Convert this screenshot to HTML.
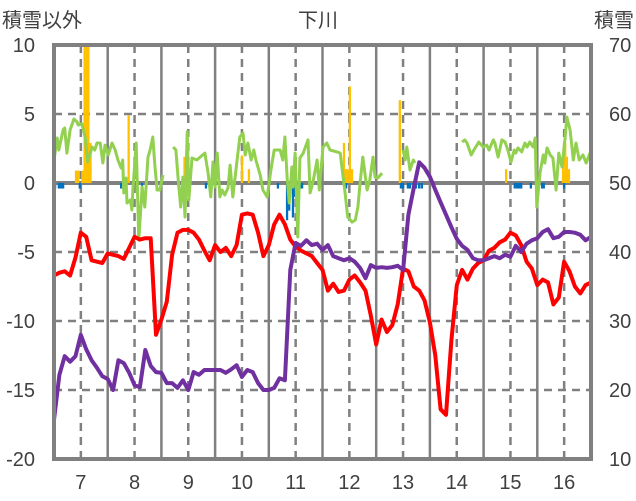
<!DOCTYPE html>
<html><head><meta charset="utf-8"><style>
html,body{margin:0;padding:0;background:#fff;}
svg{display:block;font-family:"Liberation Sans","Noto Sans CJK JP",sans-serif;}
</style></head><body>
<svg id="chart" width="636" height="501" viewBox="0 0 636 501">
<defs><clipPath id="plotclip"><rect x="54" y="45" width="537" height="414"/></clipPath></defs>
<g id="grid"></g>
<g id="bars" clip-path="url(#plotclip)"></g>
<g id="lines" clip-path="url(#plotclip)"></g>
<rect x="54" y="45" width="537" height="414" fill="none" stroke="#808080" stroke-width="4"/>
<g id="axes"></g>
<text x="2" y="27" font-size="20" fill="#404040">積雪以外</text>
<text x="318" y="27" font-size="20" fill="#404040" text-anchor="middle">下川</text>
<text x="634" y="27" font-size="20" fill="#404040" text-anchor="end">積雪</text>
</svg>
<script>
const xTicks=[7,8,9,10,11,12,13,14,15,16];
const leftTicks=[10,5,0,-5,-10,-15,-20];
const rightTicks=[70,60,50,40,30,20,10];
const lineStart=6.5, lineStep=0.1;
const redVals=[-6.7,-6.5,-6.4,-6.7,-5.4,-3.6,-3.9,-5.6,-5.7,-5.8,-5.1,-5.2,-5.3,-5.5,-4.7,-3.9,-4.1,-4.0,-4.0,-11.0,-9.9,-8.6,-5.2,-3.6,-3.4,-3.4,-3.6,-4.1,-4.9,-5.6,-4.5,-5.0,-4.7,-5.3,-4.5,-2.3,-2.2,-2.3,-3.6,-5.3,-4.5,-3.0,-2.3,-3.0,-4.1,-4.6,-4.9,-5.1,-5.3,-5.8,-6.3,-7.8,-7.3,-7.9,-7.8,-7.0,-6.7,-7.2,-7.8,-9.6,-11.7,-9.9,-10.8,-10.3,-8.8,-6.2,-6.4,-7.5,-7.8,-8.5,-10.1,-12.5,-16.4,-16.8,-11.4,-7.4,-6.3,-7.0,-6.2,-5.8,-5.6,-4.9,-4.7,-4.3,-4.1,-3.6,-3.8,-4.5,-5.7,-6.2,-7.4,-7.0,-7.2,-8.8,-8.3,-5.7,-6.4,-7.5,-8.0,-7.4,-7.2];
const snowVals=[15.7,22.2,24.9,24.1,24.9,28.0,25.9,24.3,23.2,22.0,21.6,20.0,24.3,23.9,22.5,20.7,20.4,25.8,23.5,22.6,22.5,21.0,21.0,20.3,21.4,20.0,22.6,22.2,22.9,22.9,22.9,22.9,22.5,23.0,23.6,21.9,22.9,22.6,21.0,20.0,20.0,20.3,21.7,21.4,37.4,41.3,40.9,41.7,41.0,41.2,40.3,41.0,39.4,39.1,38.8,39.1,38.6,37.7,36.2,38.1,37.7,37.8,37.7,37.8,38.0,37.4,45.4,49.3,53.0,52.2,50.9,49.0,47.2,45.4,43.6,41.9,40.9,40.3,39.1,38.8,38.8,39.1,39.4,39.1,39.6,39.3,40.9,40.0,41.2,41.7,42.0,42.9,43.3,42.0,42.2,42.9,42.9,42.8,42.5,41.7,42.2];
const greenX=[6.50,6.56,6.59,6.67,6.70,6.74,6.80,6.87,6.93,6.95,7.02,7.08,7.13,7.21,7.26,7.30,7.36,7.41,7.45,7.51,7.58,7.64,7.69,7.75,7.78,7.80,7.84,7.86,7.92,7.95,7.97,8.03,8.05,8.08,8.14,8.19,8.25,8.29,8.34,8.38,8.42,8.47,8.53,null,8.72,8.77,8.81,8.86,8.90,8.94,8.98,9.01,9.07,9.16,9.22,9.31,9.37,9.42,9.46,9.50,9.54,9.59,9.63,9.68,9.74,9.78,9.83,9.91,9.96,10.02,10.06,10.11,10.17,10.22,10.26,10.34,10.39,10.47,10.54,10.60,10.71,10.76,10.80,10.84,10.88,10.93,10.95,10.99,11.04,11.08,11.14,11.23,11.27,11.32,11.40,11.44,11.51,11.58,11.64,11.77,11.83,11.92,11.97,12.05,12.11,12.16,12.20,12.25,12.33,12.38,12.44,12.48,12.53,12.61,null,13.00,13.04,13.07,13.13,13.19,13.22,null,14.10,14.15,14.19,14.27,14.32,14.41,14.49,14.56,14.60,14.68,14.71,14.77,14.84,14.90,14.95,15.01,15.07,15.10,15.14,15.21,15.27,15.31,15.36,15.42,15.46,15.49,15.55,15.61,15.64,15.68,15.74,15.79,15.85,15.90,15.96,16.02,16.05,16.11,16.17,16.22,16.28,16.35,16.41,16.48];
const greenVals=[1.67,3.26,2.39,3.84,3.99,2.17,3.84,4.64,4.42,4.20,4.28,3.33,1.52,2.61,2.39,2.90,2.90,1.45,2.75,2.03,2.90,2.39,1.67,1.09,1.67,-0.72,0.36,-1.45,-1.23,-1.96,-0.51,2.90,0.22,-4.13,-0.29,-1.74,1.88,2.39,3.33,1.16,-0.51,-0.51,0.58,null,2.61,2.39,0.43,-1.74,0.43,-2.46,3.70,-1.23,1.81,1.67,1.88,2.17,0.72,-1.01,1.52,-0.29,2.17,-1.01,-0.51,-0.87,-0.36,1.30,-1.01,1.67,3.33,3.62,2.03,2.90,1.67,2.39,1.67,0.58,-0.51,-1.01,0.94,2.39,2.39,1.67,3.33,0.43,-1.45,1.16,-0.29,2.17,-3.91,1.81,2.17,3.12,-0.72,0.00,1.67,-0.51,2.61,2.90,2.39,2.25,2.17,-0.72,-2.46,-2.83,-2.68,-1.74,0.00,1.88,-0.51,0.22,1.88,0.43,0.36,0.72,null,2.39,1.67,2.61,0.94,1.67,1.45,null,2.97,3.12,2.90,2.03,2.39,2.97,2.61,2.75,2.39,3.12,2.90,1.88,3.12,2.97,2.39,1.52,2.39,2.17,2.54,2.25,2.90,2.61,2.97,2.61,3.26,-1.74,0.72,2.03,1.45,2.54,2.03,1.81,-0.51,2.17,1.16,3.33,4.78,3.84,1.67,2.90,1.67,2.03,1.45,2.17];
const orangeX=[6.91,6.95,7.03,7.07,7.11,7.14,7.18,7.89,8.93,10.00,10.13,11.90,11.94,11.97,12.01,12.05,12.94,14.92,15.98,16.02,16.05,16.09];
const orangeVals=[0.9,0.9,0.9,12,12,12,2.9,4.9,1.9,2.0,1.0,2.9,1.0,1.0,7.0,1.0,6.0,1.0,1.9,2.9,1.9,1.0];
const blueX=[6.52,6.59,6.63,6.67,6.98,7.75,8.14,9.33,10.67,10.84,10.88,10.95,10.99,11.03,11.08,11.12,11.29,11.94,12.96,13.00,13.09,13.13,13.19,13.24,13.30,13.35,15.08,15.12,15.16,15.20,15.38,15.59,15.62,16.00];
const blueVals=[-0.4,-0.4,-0.4,-0.4,-0.4,-0.4,-0.4,-0.4,-0.4,-2.7,-2.0,-2.5,-1.0,-1.0,-0.4,-0.4,-0.4,-0.4,-0.4,-0.4,-0.4,-0.4,-0.4,-0.4,-0.4,-0.4,-0.4,-0.4,-0.4,-0.4,-0.4,-0.4,-0.4,-0.4];

const NS='http://www.w3.org/2000/svg';
const X0=54,X1=591,Y0=45,Y1=459;
function xs(d){return X0+(d-6.5)/10*(X1-X0);}
function yl(v){return Y1-(v+20)/30*(Y1-Y0);}
function yr(v){return Y1-(v-10)/60*(Y1-Y0);}
function mk(tag,attrs,parent){const e=document.createElementNS(NS,tag);for(const k in attrs)e.setAttribute(k,attrs[k]);parent.appendChild(e);return e;}
const grid=document.getElementById('grid'),bars=document.getElementById('bars'),lines=document.getElementById('lines'),axes=document.getElementById('axes');

xTicks.forEach(t=>{
  const l=mk('line',{x1:xs(t),x2:xs(t),y1:Y0,y2:Y1,stroke:'#808080','stroke-width':2.5,'stroke-dasharray':'8,6'},grid);
  
  
  const m=mk('line',{x1:xs(t+0.5),x2:xs(t+0.5),y1:Y0,y2:Y1,stroke:'#808080','stroke-width':2.5},grid);
  
  
  const tx=mk('text',{x:xs(t),y:489,'font-size':20,fill:'#404040','text-anchor':'middle'},axes);
  tx.textContent=t;
  
  
});
leftTicks.forEach(t=>{
  if(t!==10&&t!==-20){
    const l=mk('line',{x1:X0,x2:X1,y1:yl(t),y2:yl(t),stroke:'#808080','stroke-width':t===0?4:2.5,'stroke-dasharray':t===0?'none':'8,6'},grid);
    
    
  }
  const tx=mk('text',{x:35,y:yl(t)+7,'font-size':20,fill:'#404040','text-anchor':'end'},axes);
  tx.textContent=t;
  
  
});
rightTicks.forEach(t=>{
  const tx=mk('text',{x:609,y:yr(t)+7,'font-size':20,fill:'#404040'},axes);
  tx.textContent=t;
  
  
});
const bw=2.3;
orangeX.forEach((d,i)=>{
  const v=orangeVals[i];
  const r=mk('rect',{x:xs(d)-bw/2,y:yl(v),width:bw,height:yl(0)-yl(v),fill:'#FFC000'},bars);
  
  
});
blueX.forEach((d,i)=>{
  const v=blueVals[i];
  const r=mk('rect',{x:xs(d)-bw/2,y:yl(0),width:bw,height:yl(v)-yl(0),fill:'#0070C0'},bars);
  
  
});
function pathFrom(xarr,varr,ys){
  let d='',pen=false;
  for(let i=0;i<varr.length;i++){
    const v=varr[i],x=xarr[i];
    if(v===null||x===null){pen=false;continue;}
    d+=(pen?'L':'M')+xs(x).toFixed(1)+','+ys(v).toFixed(1);pen=true;
  }
  return d;
}
const uniX=redVals.map((_,i)=>lineStart+i*lineStep);
const g=mk('path',{d:pathFrom(greenX,greenVals,yl),fill:'none',stroke:'#92D050','stroke-width':3,'stroke-linejoin':'round'},lines);


const r=mk('path',{d:pathFrom(uniX,redVals,yl),fill:'none',stroke:'#FF0000','stroke-width':4,'stroke-linejoin':'round'},lines);


const p=mk('path',{d:pathFrom(uniX,snowVals,yr),fill:'none',stroke:'#7030A0','stroke-width':4,'stroke-linejoin':'round'},lines);


</script>
</body></html>
